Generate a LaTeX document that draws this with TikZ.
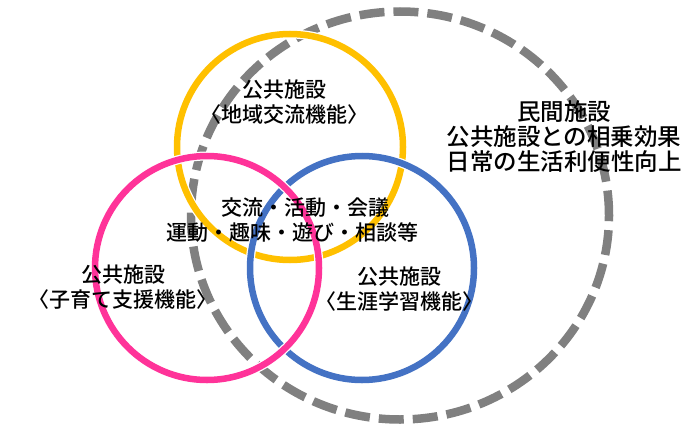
\documentclass[tikz,border=0pt]{standalone}
\usepackage{fontspec}
\setmainfont{Noto Sans CJK JP}[BoldFont={Noto Sans CJK JP Medium}]
\definecolor{cyellow}{HTML}{FFC000}
\definecolor{cpink}{HTML}{FF3399}
\definecolor{cblue}{HTML}{4472C4}
\definecolor{cgray}{HTML}{808080}
\tikzset{
  ring/.style={line width=6.5pt},
  halo/.style={line width=9pt, white},
  graydash/.style={line width=8.5pt, cgray, dash pattern=on 25pt off 9pt},
  lbl/.style={inner sep=0pt, align=center, font=\fontsize{21pt}{25pt}\selectfont\bfseries},
  biglbl/.style={inner sep=0pt, align=center, font=\fontsize{23.5pt}{25pt}\selectfont\bfseries},
}
\begin{document}
\begin{tikzpicture}[x=1pt,y=-1pt]
\useasboundingbox (0,0) rectangle (700,433);
\fill[white] (0,0) rectangle (700,433);
% private facility (dashed)
\draw[graydash] (400,215.5) ellipse [x radius=209pt, y radius=204pt];
% community exchange (yellow)
\draw[halo] (290,147) circle [radius=113pt];
\draw[ring, cyellow] (290,147) circle [radius=113pt];
% lifelong learning (blue)
\draw[halo] (362,268) circle [radius=112pt];
\draw[ring, cblue] (362,268) circle [radius=112pt];
% child support (pink)
\draw[halo] (207,268) circle [radius=112pt];
\draw[ring, cpink] (207,268) circle [radius=112pt];
% labels
\node[lbl] (top) at (284,102) {公共施設\\〈地域交流機能〉};
\node[lbl] (left) at (123,287) {公共施設\\〈子育て支援機能〉};
\node[lbl] (blue) at (399,289) {公共施設\\〈生涯学習機能〉};
\node[lbl] (mid1) at (305,208) {交流・活動・会議};
\node[lbl] (mid2) at (292,233) {運動・趣味・遊び・相談等};
\node[biglbl] (right) at (564,137) {民間施設\\公共施設との相乗効果\\日常の生活利便性向上};
\end{tikzpicture}
\end{document}
